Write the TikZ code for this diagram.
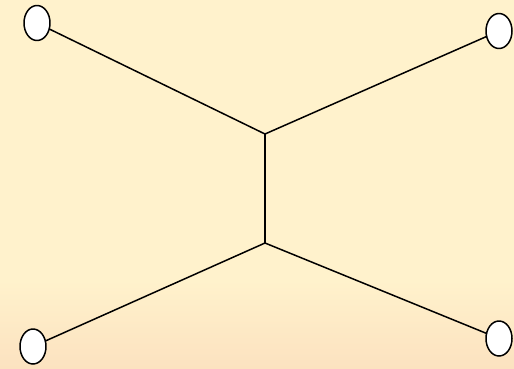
\documentclass[tikz,border=0pt]{standalone}
\usetikzlibrary{shapes.geometric}
\definecolor{TreePaper}{HTML}{FFF2CC}
\definecolor{TreePaperLow}{HTML}{FCE2C0}
\definecolor{TreeInk}{gray}{0.0}
% the picture's box covers 25bp to 75bp of the shading
\pgfdeclareverticalshading{tree/paper}{100bp}{%
    color(0bp)=(TreePaperLow); color(25bp)=(TreePaperLow);
    color(37bp)=(TreePaper); color(100bp)=(TreePaper)}
\tikzset{
    tree/diagram/.style={
        line cap=round,
        line join=round,
        every node/.style={inner sep=0pt, outer sep=0pt}
    },
    tree/leaf/.style={
        ellipse, draw=TreeInk, fill=white, line width=1.5pt,
        minimum width=26pt, minimum height=35pt
    },
    tree/edge/.style={draw=TreeInk, line width=1.5pt}
}

\begin{document}
\begin{tikzpicture}[tree/diagram, x=1pt, y=-1pt]
    \shade[shading=tree/paper] (0,0) rectangle (514,368);
    \useasboundingbox (0,0) rectangle (514,368);
    % the two inner branch points
    \coordinate (top) at (265,134);
    \coordinate (bottom) at (265,243);
    % the four leaves
    \node[tree/leaf] (NW) at (37,23) {};
    \node[tree/leaf] (NE) at (499,31) {};
    \node[tree/leaf] (SW) at (33,346.5) {};
    \node[tree/leaf] (SE) at (499,338.5) {};
    \draw[tree/edge] (NW) -- (top);
    \draw[tree/edge] (NE) -- (top);
    \draw[tree/edge] (top) -- (bottom);
    \draw[tree/edge] (SW) -- (bottom);
    \draw[tree/edge] (SE) -- (bottom);
\end{tikzpicture}
\end{document}
